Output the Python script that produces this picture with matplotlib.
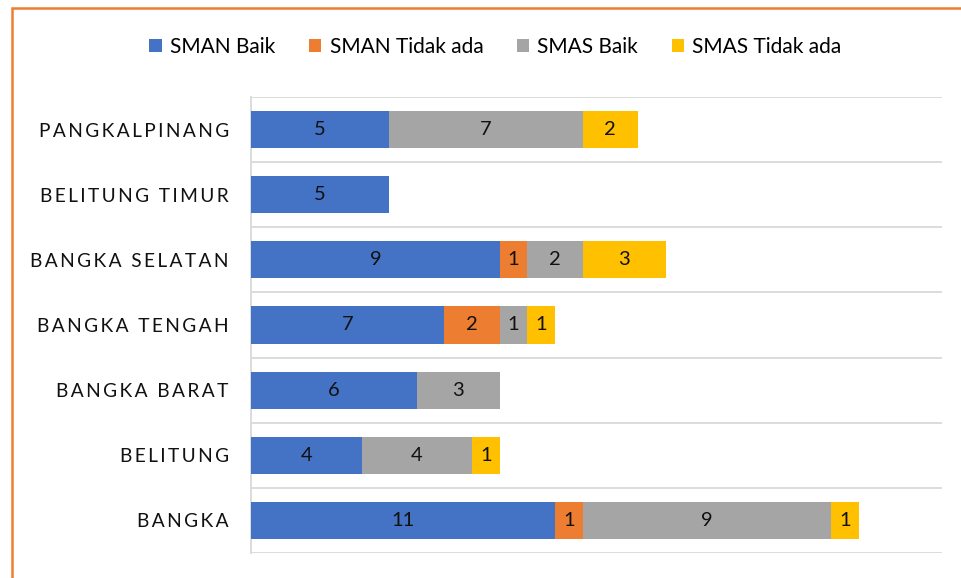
import matplotlib
matplotlib.use("Agg")
import matplotlib.pyplot as plt
from matplotlib.patches import Rectangle
import numpy as np

plt.rcParams['font.family'] = ['Lato', 'DejaVu Sans']

kabupaten = ["BANGKA", "BELITUNG", "BANGKA BARAT", "BANGKA TENGAH",
             "BANGKA SELATAN", "BELITUNG TIMUR", "PANGKALPINANG"]
sman_baik = [11, 4, 6, 7, 9, 5, 5]
sman_tidak = [1, 0, 0, 2, 1, 0, 0]
smas_baik = [9, 4, 3, 1, 2, 0, 7]
smas_tidak = [1, 1, 0, 1, 3, 0, 2]

series = [
    ("SMAN Baik", sman_baik, "#4472C4"),
    ("SMAN Tidak ada", sman_tidak, "#ED7D31"),
    ("SMAS Baik", smas_baik, "#A5A5A5"),
    ("SMAS Tidak ada", smas_tidak, "#FFC000"),
]

fig = plt.figure(figsize=(9.62, 5.78), dpi=100)
ax = fig.add_axes([251 / 962, 1 - 553 / 578, (942 - 251) / 962, (553 - 97) / 578])

y = np.arange(len(kabupaten))
left = np.zeros(len(kabupaten))
for name, vals, col in series:
    vals = np.array(vals, dtype=float)
    bars = ax.barh(y, vals, left=left, height=0.57, color=col, label=name, zorder=3)
    ax.bar_label(bars, labels=[str(int(v)) if v > 0 else "" for v in vals],
                 label_type='center', fontsize=14.5, color='#111111')
    left += vals

ax.set_xlim(0, 25)
ax.set_ylim(-0.5, len(kabupaten) - 0.5)

# garis batas antar kategori
for b in np.arange(-0.5, len(kabupaten), 1.0):
    ax.axhline(b, color='#D9D9D9', lw=1.3, zorder=1)

ax.set_xticks([])
ax.set_yticks(y)
# huruf direnggangkan dengan thin space
spaced = ["\u2009".join(k) for k in kabupaten]
ax.set_yticklabels(spaced, fontsize=13.8, color='#111111')
ax.tick_params(axis='y', length=0, pad=16)
for s in ['top', 'right', 'bottom']:
    ax.spines[s].set_visible(False)
ax.spines['left'].set_color('#D9D9D9')
ax.spines['left'].set_linewidth(1.3)

fig.legend(loc='center', bbox_to_anchor=(0.515, 1 - 47 / 578), ncol=4,
           frameon=False, fontsize=15, handlelength=0.6, handleheight=0.6,
           handletextpad=0.4, columnspacing=1.6)

# bingkai oranye
fig.patches.append(Rectangle((12 / 962, -0.05), 1.2, 1 - 8 / 578 + 0.05,
                             transform=fig.transFigure, fill=False,
                             edgecolor='#ED7D31', lw=1.8))

fig.savefig("out.png", dpi=100)
